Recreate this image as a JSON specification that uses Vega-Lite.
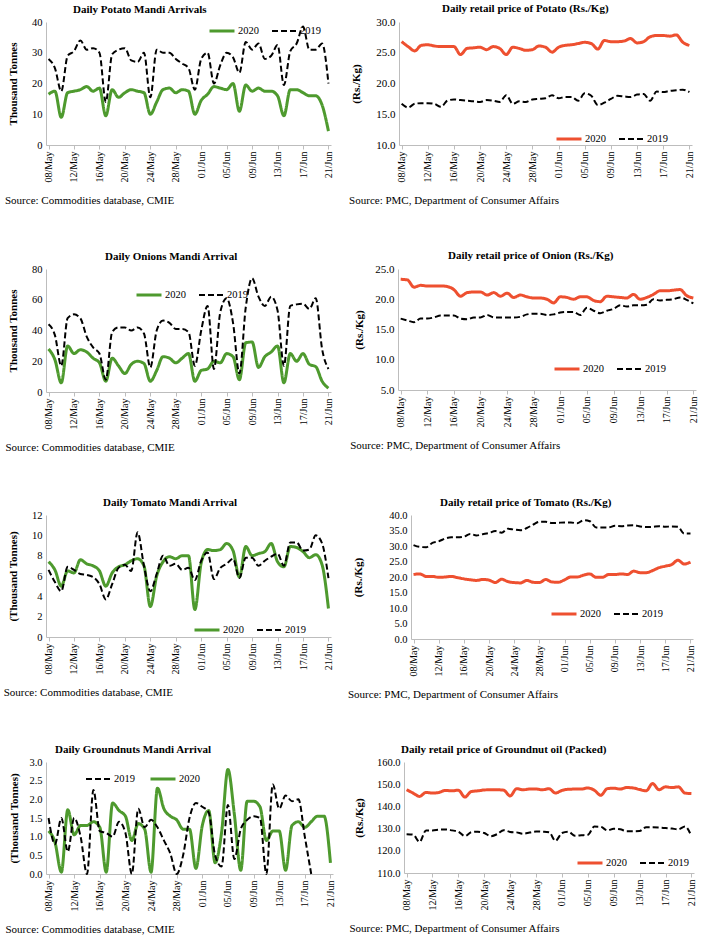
{
  "$schema": "https://vega.github.io/schema/vega-lite/v6.json",
  "background": "white",
  "padding": {"top": 3, "left": 3, "right": 5, "bottom": 5},
  "datasets": {
    "PA": [
      {"d":"08/May","2020":16.5,"2019":28},{"d":"09/May","2020":17.5,"2019":25},{"d":"10/May","2020":9,"2019":17.5},{"d":"11/May","2020":17,"2019":29},{"d":"12/May","2020":17.5,"2019":30.5},{"d":"13/May","2020":18,"2019":34},{"d":"14/May","2020":19,"2019":31},{"d":"15/May","2020":17.5,"2019":31.5},{"d":"16/May","2020":18.5,"2019":30},{"d":"17/May","2020":9.5,"2019":14},
      {"d":"18/May","2020":18,"2019":29.5},{"d":"19/May","2020":15.5,"2019":31},{"d":"20/May","2020":17,"2019":31.5},{"d":"21/May","2020":18,"2019":27.5},{"d":"22/May","2020":17.5,"2019":27},{"d":"23/May","2020":17,"2019":30},{"d":"24/May","2020":10,"2019":15.5},{"d":"25/May","2020":14,"2019":31},{"d":"26/May","2020":18,"2019":30},{"d":"27/May","2020":18.5,"2019":30},
      {"d":"28/May","2020":17,"2019":28},{"d":"29/May","2020":18,"2019":26.5},{"d":"30/May","2020":17.5,"2019":25},{"d":"31/May","2020":10,"2019":18},{"d":"01/Jun","2020":14.5,"2019":28},{"d":"02/Jun","2020":16.5,"2019":30},{"d":"03/Jun","2020":19,"2019":20},{"d":"04/Jun","2020":18.5,"2019":26},{"d":"05/Jun","2020":18,"2019":30},{"d":"06/Jun","2020":20,"2019":28.5},
      {"d":"07/Jun","2020":11,"2019":23.5},{"d":"08/Jun","2020":19.5,"2019":33.5},{"d":"09/Jun","2020":17.5,"2019":31},{"d":"10/Jun","2020":18.5,"2019":33},{"d":"11/Jun","2020":17.5,"2019":28},{"d":"12/Jun","2020":17.5,"2019":29},{"d":"13/Jun","2020":16,"2019":32.5},{"d":"14/Jun","2020":9.5,"2019":19.5},{"d":"15/Jun","2020":18,"2019":30.5},{"d":"16/Jun","2020":18,"2019":33},
      {"d":"17/Jun","2020":17,"2019":38.5},{"d":"18/Jun","2020":16,"2019":31},{"d":"19/Jun","2020":16,"2019":31},{"d":"20/Jun","2020":13,"2019":33},{"d":"21/Jun","2020":4.5,"2019":20}
    ],
    "PR": [
      {"d":"08/May","2020":26.8,"2019":16.7},{"d":"09/May","2020":26.0,"2019":16.1},{"d":"10/May","2020":25.3,"2019":16.7},{"d":"11/May","2020":26.2,"2019":16.8},{"d":"12/May","2020":26.3,"2019":16.8},{"d":"13/May","2020":26.1,"2019":16.7},{"d":"14/May","2020":26.0,"2019":16.2},{"d":"15/May","2020":26.0,"2019":17.2},{"d":"16/May","2020":26.0,"2019":17.4},{"d":"17/May","2020":24.7,"2019":17.3},
      {"d":"18/May","2020":25.7,"2019":17.2},{"d":"19/May","2020":25.8,"2019":17.1},{"d":"20/May","2020":25.9,"2019":17.0},{"d":"21/May","2020":25.5,"2019":17.3},{"d":"22/May","2020":26.0,"2019":17.2},{"d":"23/May","2020":25.7,"2019":17.0},{"d":"24/May","2020":24.7,"2019":18.1},{"d":"25/May","2020":25.9,"2019":16.7},{"d":"26/May","2020":25.7,"2019":17.1},{"d":"27/May","2020":25.4,"2019":17.0},
      {"d":"28/May","2020":25.5,"2019":17.4},{"d":"29/May","2020":26.1,"2019":17.5},{"d":"30/May","2020":25.9,"2019":17.6},{"d":"31/May","2020":25.1,"2019":18.1},{"d":"01/Jun","2020":25.9,"2019":17.6},{"d":"02/Jun","2020":26.2,"2019":17.8},{"d":"03/Jun","2020":26.3,"2019":17.8},{"d":"04/Jun","2020":26.5,"2019":17.2},{"d":"05/Jun","2020":26.7,"2019":18.4},{"d":"06/Jun","2020":26.5,"2019":18.0},
      {"d":"07/Jun","2020":25.6,"2019":16.5},{"d":"08/Jun","2020":27.0,"2019":16.9},{"d":"09/Jun","2020":26.8,"2019":17.5},{"d":"10/Jun","2020":26.8,"2019":18.0},{"d":"11/Jun","2020":26.9,"2019":17.9},{"d":"12/Jun","2020":27.3,"2019":17.8},{"d":"13/Jun","2020":26.6,"2019":18.2},{"d":"14/Jun","2020":26.8,"2019":18.3},{"d":"15/Jun","2020":27.6,"2019":17.2},{"d":"16/Jun","2020":27.8,"2019":18.7},
      {"d":"17/Jun","2020":27.8,"2019":18.6},{"d":"18/Jun","2020":27.7,"2019":18.8},{"d":"19/Jun","2020":27.9,"2019":18.9},{"d":"20/Jun","2020":26.7,"2019":19.0},{"d":"21/Jun","2020":26.2,"2019":18.6}
    ],
    "OA": [
      {"d":"08/May","2020":28,"2019":44},{"d":"09/May","2020":21,"2019":37},{"d":"10/May","2020":6,"2019":17},{"d":"11/May","2020":30,"2019":48},{"d":"12/May","2020":25,"2019":50.5},{"d":"13/May","2020":27.5,"2019":48},{"d":"14/May","2020":26,"2019":36},{"d":"15/May","2020":22,"2019":29},{"d":"16/May","2020":19,"2019":25},{"d":"17/May","2020":7,"2019":8},
      {"d":"18/May","2020":22,"2019":39},{"d":"19/May","2020":17,"2019":42},{"d":"20/May","2020":12,"2019":42},{"d":"21/May","2020":18,"2019":40},{"d":"22/May","2020":20,"2019":42},{"d":"23/May","2020":18.5,"2019":38},{"d":"24/May","2020":7,"2019":16},{"d":"25/May","2020":14,"2019":40},{"d":"26/May","2020":23,"2019":46.5},{"d":"27/May","2020":22,"2019":45},
      {"d":"28/May","2020":19,"2019":41},{"d":"29/May","2020":22,"2019":41},{"d":"30/May","2020":25,"2019":39},{"d":"31/May","2020":7,"2019":17},{"d":"01/Jun","2020":14,"2019":40},{"d":"02/Jun","2020":15,"2019":56},{"d":"03/Jun","2020":20,"2019":15},{"d":"04/Jun","2020":19,"2019":52},{"d":"05/Jun","2020":25,"2019":61},{"d":"06/Jun","2020":23,"2019":45},
      {"d":"07/Jun","2020":8,"2019":12},{"d":"08/Jun","2020":32,"2019":55},{"d":"09/Jun","2020":32.5,"2019":74},{"d":"10/Jun","2020":16,"2019":62},{"d":"11/Jun","2020":23,"2019":56},{"d":"12/Jun","2020":26,"2019":62},{"d":"13/Jun","2020":30,"2019":53},{"d":"14/Jun","2020":6,"2019":17},{"d":"15/Jun","2020":25,"2019":56},{"d":"16/Jun","2020":20,"2019":57},
      {"d":"17/Jun","2020":25,"2019":57.5},{"d":"18/Jun","2020":18,"2019":54},{"d":"19/Jun","2020":16.5,"2019":61},{"d":"20/Jun","2020":7,"2019":28},{"d":"21/Jun","2020":2.5,"2019":15}
    ],
    "OR": [
      {"d":"08/May","2020":23.3,"2019":16.8},{"d":"09/May","2020":23.2,"2019":16.5},{"d":"10/May","2020":22.0,"2019":16.2},{"d":"11/May","2020":22.3,"2019":16.8},{"d":"12/May","2020":22.2,"2019":16.8},{"d":"13/May","2020":22.2,"2019":17.0},{"d":"14/May","2020":22.2,"2019":17.3},{"d":"15/May","2020":22.1,"2019":17.3},{"d":"16/May","2020":21.6,"2019":17.3},{"d":"17/May","2020":20.5,"2019":16.8},
      {"d":"18/May","2020":21.1,"2019":16.7},{"d":"19/May","2020":21.2,"2019":17.0},{"d":"20/May","2020":21.2,"2019":17.0},{"d":"21/May","2020":20.7,"2019":17.4},{"d":"22/May","2020":21.1,"2019":17.0},{"d":"23/May","2020":20.5,"2019":17.0},{"d":"24/May","2020":21.0,"2019":17.0},{"d":"25/May","2020":20.3,"2019":17.0},{"d":"26/May","2020":20.7,"2019":17.1},{"d":"27/May","2020":20.4,"2019":17.5},
      {"d":"28/May","2020":20.2,"2019":17.6},{"d":"29/May","2020":20.2,"2019":17.6},{"d":"30/May","2020":20.0,"2019":17.4},{"d":"31/May","2020":19.4,"2019":17.5},{"d":"01/Jun","2020":20.4,"2019":17.8},{"d":"02/Jun","2020":20.3,"2019":17.9},{"d":"03/Jun","2020":20.0,"2019":17.9},{"d":"04/Jun","2020":20.4,"2019":17.4},{"d":"05/Jun","2020":20.4,"2019":18.6},{"d":"06/Jun","2020":19.8,"2019":18.1},
      {"d":"07/Jun","2020":19.6,"2019":17.7},{"d":"08/Jun","2020":20.5,"2019":18.1},{"d":"09/Jun","2020":20.4,"2019":18.4},{"d":"10/Jun","2020":20.3,"2019":19.0},{"d":"11/Jun","2020":20.2,"2019":18.8},{"d":"12/Jun","2020":20.8,"2019":19.0},{"d":"13/Jun","2020":20.0,"2019":19.0},{"d":"14/Jun","2020":20.3,"2019":19.1},{"d":"15/Jun","2020":20.8,"2019":20.0},{"d":"16/Jun","2020":21.4,"2019":19.8},
      {"d":"17/Jun","2020":21.4,"2019":19.9},{"d":"18/Jun","2020":21.5,"2019":20.0},{"d":"19/Jun","2020":21.6,"2019":20.3},{"d":"20/Jun","2020":20.6,"2019":19.9},{"d":"21/Jun","2020":20.2,"2019":19.3}
    ],
    "TA": [
      {"d":"08/May","2020":7.4,"2019":6.6},{"d":"09/May","2020":6.6,"2019":5.4},{"d":"10/May","2020":5.0,"2019":4.5},{"d":"11/May","2020":6.5,"2019":6.9},{"d":"12/May","2020":6.3,"2019":6.6},{"d":"13/May","2020":7.6,"2019":6.2},{"d":"14/May","2020":7.2,"2019":6.1},{"d":"15/May","2020":7.0,"2019":5.9},{"d":"16/May","2020":6.5,"2019":5.2},{"d":"17/May","2020":5.0,"2019":3.7},
      {"d":"18/May","2020":6.3,"2019":5.2},{"d":"19/May","2020":6.9,"2019":6.8},{"d":"20/May","2020":7.1,"2019":7.1},{"d":"21/May","2020":7.5,"2019":6.5},{"d":"22/May","2020":7.7,"2019":10.3},{"d":"23/May","2020":7.0,"2019":7.0},{"d":"24/May","2020":3.0,"2019":4.5},{"d":"25/May","2020":6.0,"2019":6.2},{"d":"26/May","2020":7.4,"2019":8.0},{"d":"27/May","2020":7.9,"2019":7.0},
      {"d":"28/May","2020":7.7,"2019":7.2},{"d":"29/May","2020":8.0,"2019":6.6},{"d":"30/May","2020":8.0,"2019":6.8},{"d":"31/May","2020":2.7,"2019":5.6},{"d":"01/Jun","2020":7.3,"2019":7.5},{"d":"02/Jun","2020":8.6,"2019":8.3},{"d":"03/Jun","2020":8.5,"2019":5.7},{"d":"04/Jun","2020":8.6,"2019":6.8},{"d":"05/Jun","2020":9.2,"2019":7.2},{"d":"06/Jun","2020":8.5,"2019":7.7},
      {"d":"07/Jun","2020":5.9,"2019":5.8},{"d":"08/Jun","2020":8.9,"2019":7.8},{"d":"09/Jun","2020":8.0,"2019":7.8},{"d":"10/Jun","2020":8.2,"2019":7.0},{"d":"11/Jun","2020":8.4,"2019":7.5},{"d":"12/Jun","2020":9.2,"2019":7.9},{"d":"13/Jun","2020":7.4,"2019":8.2},{"d":"14/Jun","2020":6.9,"2019":7.0},{"d":"15/Jun","2020":8.9,"2019":9.3},{"d":"16/Jun","2020":8.8,"2019":9.3},
      {"d":"17/Jun","2020":8.4,"2019":8.5},{"d":"18/Jun","2020":7.8,"2019":8.6},{"d":"19/Jun","2020":8.1,"2019":10.0},{"d":"20/Jun","2020":7.1,"2019":9.2},{"d":"21/Jun","2020":2.8,"2019":5.8}
    ],
    "TR": [
      {"d":"08/May","2020":20.8,"2019":30.3},{"d":"09/May","2020":21.0,"2019":29.7},{"d":"10/May","2020":20.2,"2019":29.6},{"d":"11/May","2020":20.2,"2019":31.0},{"d":"12/May","2020":19.9,"2019":31.5},{"d":"13/May","2020":20.0,"2019":32.4},{"d":"14/May","2020":20.2,"2019":32.8},{"d":"15/May","2020":19.8,"2019":32.8},{"d":"16/May","2020":19.4,"2019":33.0},{"d":"17/May","2020":19.1,"2019":33.9},
      {"d":"18/May","2020":18.9,"2019":33.4},{"d":"19/May","2020":19.2,"2019":33.8},{"d":"20/May","2020":19.0,"2019":34.2},{"d":"21/May","2020":18.2,"2019":34.8},{"d":"22/May","2020":19.3,"2019":34.3},{"d":"23/May","2020":18.5,"2019":35.6},{"d":"24/May","2020":18.2,"2019":35.3},{"d":"25/May","2020":18.1,"2019":35.1},{"d":"26/May","2020":18.9,"2019":35.8},{"d":"27/May","2020":18.3,"2019":36.9},
      {"d":"28/May","2020":18.2,"2019":37.8},{"d":"29/May","2020":19.2,"2019":37.8},{"d":"30/May","2020":18.4,"2019":37.4},{"d":"31/May","2020":18.3,"2019":37.5},{"d":"01/Jun","2020":19.1,"2019":37.6},{"d":"02/Jun","2020":20.0,"2019":37.6},{"d":"03/Jun","2020":20.0,"2019":37.3},{"d":"04/Jun","2020":20.6,"2019":38.3},{"d":"05/Jun","2020":21.0,"2019":38.0},{"d":"06/Jun","2020":19.9,"2019":36.0},
      {"d":"07/Jun","2020":19.9,"2019":36.0},{"d":"08/Jun","2020":20.8,"2019":36.0},{"d":"09/Jun","2020":20.8,"2019":36.5},{"d":"10/Jun","2020":21.0,"2019":36.4},{"d":"11/Jun","2020":20.8,"2019":36.6},{"d":"12/Jun","2020":21.9,"2019":36.7},{"d":"13/Jun","2020":21.4,"2019":36.3},{"d":"14/Jun","2020":21.4,"2019":36.1},{"d":"15/Jun","2020":22.1,"2019":36.2},{"d":"16/Jun","2020":23.0,"2019":36.4},
      {"d":"17/Jun","2020":23.5,"2019":36.2},{"d":"18/Jun","2020":24.0,"2019":36.3},{"d":"19/Jun","2020":25.4,"2019":36.2},{"d":"20/Jun","2020":24.2,"2019":34.0},{"d":"21/Jun","2020":24.8,"2019":34.0}
    ],
    "GA": [
      {"d":"08/May","2020":1.15,"2019":1.5},{"d":"09/May","2020":0.85,"2019":0.8},{"d":"10/May","2020":0.05,"2019":1.5},{"d":"11/May","2020":1.72,"2019":0.6},{"d":"12/May","2020":1.05,"2019":1.5},{"d":"13/May","2020":1.3,"2019":1.0},{"d":"14/May","2020":1.3,"2019":0.0},{"d":"15/May","2020":1.4,"2019":2.25},{"d":"16/May","2020":1.25,"2019":1.15},{"d":"17/May","2020":0.05,"2019":1.1},
      {"d":"18/May","2020":1.9,"2019":1.0},{"d":"19/May","2020":1.7,"2019":1.4},{"d":"20/May","2020":1.55,"2019":1.1},{"d":"21/May","2020":0.9,"2019":0.0},{"d":"22/May","2020":1.35,"2019":1.75},{"d":"23/May","2020":1.2,"2019":1.25},{"d":"24/May","2020":0.05,"2019":1.45},{"d":"25/May","2020":2.3,"2019":1.25},{"d":"26/May","2020":1.75,"2019":0.9},{"d":"27/May","2020":1.55,"2019":0.55},
      {"d":"28/May","2020":1.45,"2019":0.0},{"d":"29/May","2020":1.2,"2019":0.5},{"d":"30/May","2020":1.2,"2019":1.5},{"d":"31/May","2020":0.15,"2019":1.9},{"d":"01/Jun","2020":1.3,"2019":1.8},{"d":"02/Jun","2020":1.7,"2019":1.65},{"d":"03/Jun","2020":0.3,"2019":0.5},{"d":"04/Jun","2020":1.1,"2019":0.2},{"d":"05/Jun","2020":2.8,"2019":1.85},{"d":"06/Jun","2020":1.6,"2019":0.4},
      {"d":"07/Jun","2020":0.1,"2019":1.2},{"d":"08/Jun","2020":1.95,"2019":1.45},{"d":"09/Jun","2020":1.95,"2019":1.55},{"d":"10/Jun","2020":1.8,"2019":1.5},{"d":"11/Jun","2020":0.9,"2019":0.0},{"d":"12/Jun","2020":1.15,"2019":2.4},{"d":"13/Jun","2020":1.15,"2019":1.75},{"d":"14/Jun","2020":0.1,"2019":2.1},{"d":"15/Jun","2020":1.3,"2019":1.95},{"d":"16/Jun","2020":1.4,"2019":2.0},
      {"d":"17/Jun","2020":1.25,"2019":1.0},{"d":"18/Jun","2020":1.4,"2019":0.0},{"d":"19/Jun","2020":1.55,"2019":null},{"d":"20/Jun","2020":1.55,"2019":null},{"d":"21/Jun","2020":0.3,"2019":null}
    ],
    "GO": [
      {"d":"08/May","2020":147.5,"2019":127.5},{"d":"09/May","2020":146.0,"2019":127.3},{"d":"10/May","2020":144.5,"2019":124.0},{"d":"11/May","2020":146.3,"2019":129.2},{"d":"12/May","2020":146.0,"2019":129.2},{"d":"13/May","2020":146.3,"2019":129.5},{"d":"14/May","2020":147.2,"2019":129.6},{"d":"15/May","2020":147.0,"2019":129.2},{"d":"16/May","2020":147.3,"2019":128.6},{"d":"17/May","2020":144.2,"2019":126.6},
      {"d":"18/May","2020":146.7,"2019":128.4},{"d":"19/May","2020":147.0,"2019":128.6},{"d":"20/May","2020":147.4,"2019":128.0},{"d":"21/May","2020":147.5,"2019":126.6},{"d":"22/May","2020":147.5,"2019":127.5},{"d":"23/May","2020":147.3,"2019":129.3},{"d":"24/May","2020":144.7,"2019":128.5},{"d":"25/May","2020":148.0,"2019":128.3},{"d":"26/May","2020":147.5,"2019":127.7},{"d":"27/May","2020":147.8,"2019":128.2},
      {"d":"28/May","2020":147.8,"2019":128.7},{"d":"29/May","2020":147.5,"2019":128.6},{"d":"30/May","2020":148.0,"2019":128.4},{"d":"31/May","2020":146.0,"2019":124.5},{"d":"01/Jun","2020":147.2,"2019":128.0},{"d":"02/Jun","2020":147.7,"2019":128.6},{"d":"03/Jun","2020":147.8,"2019":126.8},{"d":"04/Jun","2020":147.8,"2019":127.0},{"d":"05/Jun","2020":148.3,"2019":127.2},{"d":"06/Jun","2020":147.3,"2019":130.9},
      {"d":"07/Jun","2020":145.0,"2019":130.8},{"d":"08/Jun","2020":148.0,"2019":129.2},{"d":"09/Jun","2020":148.2,"2019":129.9},{"d":"10/Jun","2020":147.8,"2019":129.7},{"d":"11/Jun","2020":148.5,"2019":128.8},{"d":"12/Jun","2020":148.3,"2019":128.8},{"d":"13/Jun","2020":147.6,"2019":128.9},{"d":"14/Jun","2020":147.0,"2019":130.6},{"d":"15/Jun","2020":150.3,"2019":130.6},{"d":"16/Jun","2020":147.5,"2019":130.5},
      {"d":"17/Jun","2020":148.8,"2019":130.3},{"d":"18/Jun","2020":148.5,"2019":130.0},{"d":"19/Jun","2020":148.8,"2019":129.7},{"d":"20/Jun","2020":146.0,"2019":131.0},{"d":"21/Jun","2020":145.8,"2019":126.6}
    ]
  },
  "spacing": 45,
  "resolve": {"scale": {"color": "independent", "strokeDash": "independent", "strokeWidth": "independent"}, "legend": {"color": "independent", "strokeDash": "independent", "strokeWidth": "independent"}},
  "vconcat": [
    {
      "spacing": 13,
      "resolve": {"scale": {"color": "independent", "strokeDash": "independent", "strokeWidth": "independent"}, "legend": {"color": "independent", "strokeDash": "independent", "strokeWidth": "independent"}},
      "hconcat": [
        {
          "data": {"name": "PA"},
          "transform": [{"fold": ["2020", "2019"], "as": ["year", "val"]}],
          "width": 285, "height": 123,
          "title": {"text": "Daily Potato Mandi Arrivals", "dx": 27},
          "mark": {"type": "line", "interpolate": "monotone"},
          "encoding": {
            "x": {"field": "d", "type": "ordinal", "sort": null, "scale": {"type": "point", "padding": 0.4},
              "axis": {"values": ["08/May","12/May","16/May","20/May","24/May","28/May","01/Jun","05/Jun","09/Jun","13/Jun","17/Jun","21/Jun"], "title": "Source: Commodities database, CMIE", "titleX": -41.5}},
            "y": {"field": "val", "type": "quantitative", "scale": {"domain": [0, 40]},
              "axis": {"values": [0, 10, 20, 30, 40], "title": "Thousand Tonnes", "titlePadding": 13}},
            "color": {"field": "year", "type": "nominal", "scale": {"domain": ["2020", "2019"], "range": ["#4e9a2e", "#000000"]}, "legend": {"title": null, "legendX": 162, "legendY": -5}},
            "strokeDash": {"field": "year", "type": "nominal", "scale": {"domain": ["2020", "2019"], "range": [[1, 0], [6, 3]]}, "legend": {"title": null, "legendX": 162, "legendY": -5}},
            "strokeWidth": {"field": "year", "type": "ordinal", "scale": {"domain": ["2020", "2019"], "range": [3, 2]}, "legend": {"title": null, "legendX": 162, "legendY": -5}}
          }
        },
        {
          "data": {"name": "PR"},
          "transform": [{"fold": ["2020", "2019"], "as": ["year", "val"]}],
          "width": 293, "height": 123,
          "title": {"text": "Daily retail price of Potato (Rs./Kg)", "dx": 43},
          "mark": {"type": "line", "interpolate": "monotone"},
          "encoding": {
            "x": {"field": "d", "type": "ordinal", "sort": null, "scale": {"type": "point", "padding": 0.4},
              "axis": {"values": ["08/May","12/May","16/May","20/May","24/May","28/May","01/Jun","05/Jun","09/Jun","13/Jun","17/Jun","21/Jun"], "title": "Source: PMC, Department of Consumer Affairs", "titleX": -50.4}},
            "y": {"field": "val", "type": "quantitative", "scale": {"domain": [10, 30]},
              "axis": {"values": [10, 15, 20, 25, 30], "format": ".1f", "title": "(Rs./Kg)", "titlePadding": 14, "labelFontSize": 11}},
            "color": {"field": "year", "type": "nominal", "scale": {"domain": ["2020", "2019"], "range": ["#ee5030", "#000000"]}, "legend": {"title": null, "legendX": 156, "legendY": 103}},
            "strokeDash": {"field": "year", "type": "nominal", "scale": {"domain": ["2020", "2019"], "range": [[1, 0], [6, 3]]}, "legend": {"title": null, "legendX": 156, "legendY": 103}},
            "strokeWidth": {"field": "year", "type": "ordinal", "scale": {"domain": ["2020", "2019"], "range": [3, 2]}, "legend": {"title": null, "legendX": 156, "legendY": 103}}
          }
        }
      ]
    },
    {
      "spacing": 14,
      "resolve": {"scale": {"color": "independent", "strokeDash": "independent", "strokeWidth": "independent"}, "legend": {"color": "independent", "strokeDash": "independent", "strokeWidth": "independent"}},
      "hconcat": [
        {
          "data": {"name": "OA"},
          "transform": [{"fold": ["2020", "2019"], "as": ["year", "val"]}],
          "width": 285, "height": 123,
          "title": {"text": "Daily Onions Mandi Arrival", "dx": 59},
          "mark": {"type": "line", "interpolate": "monotone"},
          "encoding": {
            "x": {"field": "d", "type": "ordinal", "sort": null, "scale": {"type": "point", "padding": 0.4},
              "axis": {"values": ["08/May","12/May","16/May","20/May","24/May","28/May","01/Jun","05/Jun","09/Jun","13/Jun","17/Jun","21/Jun"], "title": "Source: Commodities database, CMIE", "titleX": -41}},
            "y": {"field": "val", "type": "quantitative", "scale": {"domain": [0, 80]},
              "axis": {"values": [0, 20, 40, 60, 80], "title": "Thousand Tonnes", "titlePadding": 13}},
            "color": {"field": "year", "type": "nominal", "scale": {"domain": ["2020", "2019"], "range": ["#4e9a2e", "#000000"]}, "legend": {"title": null, "legendX": 89, "legendY": 12}},
            "strokeDash": {"field": "year", "type": "nominal", "scale": {"domain": ["2020", "2019"], "range": [[1, 0], [6, 3]]}, "legend": {"title": null, "legendX": 89, "legendY": 12}},
            "strokeWidth": {"field": "year", "type": "ordinal", "scale": {"domain": ["2020", "2019"], "range": [3, 2]}, "legend": {"title": null, "legendX": 89, "legendY": 12}}
          }
        },
        {
          "data": {"name": "OR"},
          "transform": [{"fold": ["2020", "2019"], "as": ["year", "val"]}],
          "width": 298, "height": 121,
          "title": {"text": "Daily retail price of Onion (Rs./Kg)", "dx": 50},
          "mark": {"type": "line", "interpolate": "monotone"},
          "encoding": {
            "x": {"field": "d", "type": "ordinal", "sort": null, "scale": {"type": "point", "padding": 0.4},
              "axis": {"values": ["08/May","12/May","16/May","20/May","24/May","28/May","01/Jun","05/Jun","09/Jun","13/Jun","17/Jun","21/Jun"], "title": "Source: PMC, Department of Consumer Affairs", "titleX": -48.3}},
            "y": {"field": "val", "type": "quantitative", "scale": {"domain": [5, 25]},
              "axis": {"values": [5, 10, 15, 20, 25], "format": ".1f", "title": "(Rs./Kg)", "titlePadding": 10, "labelFontSize": 11}},
            "color": {"field": "year", "type": "nominal", "scale": {"domain": ["2020", "2019"], "range": ["#ee5030", "#000000"]}, "legend": {"title": null, "legendX": 155, "legendY": 86}},
            "strokeDash": {"field": "year", "type": "nominal", "scale": {"domain": ["2020", "2019"], "range": [[1, 0], [6, 3]]}, "legend": {"title": null, "legendX": 155, "legendY": 86}},
            "strokeWidth": {"field": "year", "type": "ordinal", "scale": {"domain": ["2020", "2019"], "range": [3, 2]}, "legend": {"title": null, "legendX": 155, "legendY": 86}}
          }
        }
      ]
    },
    {
      "spacing": 12,
      "resolve": {"scale": {"color": "independent", "strokeDash": "independent", "strokeWidth": "independent"}, "legend": {"color": "independent", "strokeDash": "independent", "strokeWidth": "independent"}},
      "hconcat": [
        {
          "data": {"name": "TA"},
          "transform": [{"fold": ["2020", "2019"], "as": ["year", "val"]}],
          "width": 285, "height": 122,
          "title": {"text": "Daily Tomato Mandi Arrival", "dx": 57},
          "mark": {"type": "line", "interpolate": "monotone"},
          "encoding": {
            "x": {"field": "d", "type": "ordinal", "sort": null, "scale": {"type": "point", "padding": 0.4},
              "axis": {"values": ["08/May","12/May","16/May","20/May","24/May","28/May","01/Jun","05/Jun","09/Jun","13/Jun","17/Jun","21/Jun"], "title": "Source: Commodities database, CMIE", "titleX": -42.8}},
            "y": {"field": "val", "type": "quantitative", "scale": {"domain": [0, 12]},
              "axis": {"values": [0, 2, 4, 6, 8, 10, 12], "title": "(Thousand Tonnes)", "titlePadding": 13}},
            "color": {"field": "year", "type": "nominal", "scale": {"domain": ["2020", "2019"], "range": ["#4e9a2e", "#000000"]}, "legend": {"title": null, "legendX": 147, "legendY": 101}},
            "strokeDash": {"field": "year", "type": "nominal", "scale": {"domain": ["2020", "2019"], "range": [[1, 0], [6, 3]]}, "legend": {"title": null, "legendX": 147, "legendY": 101}},
            "strokeWidth": {"field": "year", "type": "ordinal", "scale": {"domain": ["2020", "2019"], "range": [3, 2]}, "legend": {"title": null, "legendX": 147, "legendY": 101}}
          }
        },
        {
          "data": {"name": "TR"},
          "transform": [{"fold": ["2020", "2019"], "as": ["year", "val"]}],
          "width": 282, "height": 124,
          "title": {"text": "Daily retail price of Tomato (Rs./Kg)", "dx": 29},
          "mark": {"type": "line", "interpolate": "monotone"},
          "encoding": {
            "x": {"field": "d", "type": "ordinal", "sort": null, "scale": {"type": "point", "padding": 0.4},
              "axis": {"values": ["08/May","12/May","16/May","20/May","24/May","28/May","01/Jun","05/Jun","09/Jun","13/Jun","17/Jun","21/Jun"], "title": "Source: PMC, Department of Consumer Affairs", "titleX": -63.5}},
            "y": {"field": "val", "type": "quantitative", "scale": {"domain": [0, 40]},
              "axis": {"values": [0, 5, 10, 15, 20, 25, 30, 35, 40], "format": ".1f", "title": "(Rs./Kg)", "titlePadding": 25}},
            "color": {"field": "year", "type": "nominal", "scale": {"domain": ["2020", "2019"], "range": ["#ee5030", "#000000"]}, "legend": {"title": null, "legendX": 139, "legendY": 85}},
            "strokeDash": {"field": "year", "type": "nominal", "scale": {"domain": ["2020", "2019"], "range": [[1, 0], [6, 3]]}, "legend": {"title": null, "legendX": 139, "legendY": 85}},
            "strokeWidth": {"field": "year", "type": "ordinal", "scale": {"domain": ["2020", "2019"], "range": [3, 2]}, "legend": {"title": null, "legendX": 139, "legendY": 85}}
          }
        }
      ]
    },
    {
      "spacing": 12,
      "resolve": {"scale": {"color": "independent", "strokeDash": "independent", "strokeWidth": "independent"}, "legend": {"color": "independent", "strokeDash": "independent", "strokeWidth": "independent"}},
      "hconcat": [
        {
          "data": {"name": "GA"},
          "transform": [{"fold": ["2020", "2019"], "as": ["year", "val"]}],
          "width": 287, "height": 112,
          "title": {"text": "Daily Groundnuts Mandi Arrival", "dx": 9},
          "mark": {"type": "line", "interpolate": "monotone"},
          "encoding": {
            "x": {"field": "d", "type": "ordinal", "sort": null, "scale": {"type": "point", "padding": 0.4},
              "axis": {"values": ["08/May","12/May","16/May","20/May","24/May","28/May","01/Jun","05/Jun","09/Jun","13/Jun","17/Jun","21/Jun"], "title": "Source: Commodities database, CMIE", "titleX": -41}},
            "y": {"field": "val", "type": "quantitative", "scale": {"domain": [0, 3]},
              "axis": {"values": [0, 0.5, 1, 1.5, 2, 2.5, 3], "format": ".1f", "title": "(Thousand Tonnes)", "titlePadding": 9}},
            "color": {"field": "year", "type": "nominal", "scale": {"domain": ["2019", "2020"], "range": ["#000000", "#4e9a2e"]}, "legend": {"title": null, "legendX": 39, "legendY": 3}},
            "strokeDash": {"field": "year", "type": "nominal", "scale": {"domain": ["2019", "2020"], "range": [[6, 3], [1, 0]]}, "legend": {"title": null, "legendX": 39, "legendY": 3}},
            "strokeWidth": {"field": "year", "type": "ordinal", "scale": {"domain": ["2019", "2020"], "range": [2, 3]}, "legend": {"title": null, "legendX": 39, "legendY": 3}}
          }
        },
        {
          "data": {"name": "GO"},
          "transform": [{"fold": ["2020", "2019"], "as": ["year", "val"]}],
          "width": 290, "height": 111,
          "title": {"text": "Daily retail price of Groundnut oil (Packed)", "dx": -3},
          "mark": {"type": "line", "interpolate": "monotone"},
          "encoding": {
            "x": {"field": "d", "type": "ordinal", "sort": null, "scale": {"type": "point", "padding": 0.4},
              "axis": {"values": ["08/May","12/May","16/May","20/May","24/May","28/May","01/Jun","05/Jun","09/Jun","13/Jun","17/Jun","21/Jun"], "title": "Source: PMC, Department of Consumer Affairs", "titleX": -55}},
            "y": {"field": "val", "type": "quantitative", "scale": {"domain": [110, 160]},
              "axis": {"values": [110, 120, 130, 140, 150, 160], "format": ".1f", "title": "(Rs./Kg)", "titlePadding": 12}},
            "color": {"field": "year", "type": "nominal", "scale": {"domain": ["2020", "2019"], "range": ["#ee5030", "#000000"]}, "legend": {"title": null, "legendX": 172, "legendY": 87}},
            "strokeDash": {"field": "year", "type": "nominal", "scale": {"domain": ["2020", "2019"], "range": [[1, 0], [6, 3]]}, "legend": {"title": null, "legendX": 172, "legendY": 87}},
            "strokeWidth": {"field": "year", "type": "ordinal", "scale": {"domain": ["2020", "2019"], "range": [3, 2]}, "legend": {"title": null, "legendX": 172, "legendY": 87}}
          }
        }
      ]
    }
  ],
  "config": {
    "font": "Liberation Serif",
    "view": {"stroke": null},
    "title": {"font": "Liberation Serif", "fontSize": 11, "fontWeight": "bold", "color": "#000000", "anchor": "start", "frame": "group", "offset": 2},
    "axis": {"labelFont": "Liberation Serif", "titleFont": "Liberation Serif", "labelColor": "#000000", "titleColor": "#000000", "domainColor": "#bdbdbd", "tickColor": "#bdbdbd", "grid": false},
    "axisX": {"labelAngle": -90, "labelFontSize": 10, "tickSize": 4, "labelPadding": 2, "labelOverlap": false, "titleFontSize": 11, "titleFontWeight": "normal", "titleAlign": "left", "titleBaseline": "middle", "titleY": 55},
    "axisY": {"ticks": false, "labelFontSize": 10.5, "labelPadding": 4, "titleFontSize": 11, "titleFontWeight": "bold"},
    "legend": {"orient": "none", "direction": "horizontal", "symbolType": "stroke", "symbolSize": 625, "labelFont": "Liberation Serif", "labelFontSize": 10.5, "labelColor": "#000000", "labelOffset": 2, "columnPadding": 9, "padding": 0}
  }
}
